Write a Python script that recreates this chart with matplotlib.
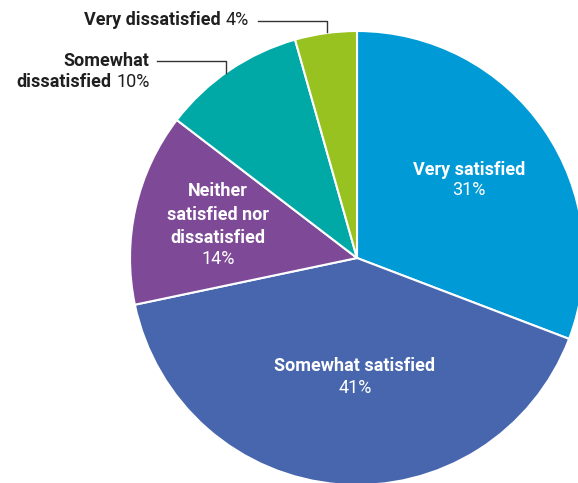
import matplotlib
matplotlib.use("Agg")
import matplotlib.pyplot as plt

plt.rcParams['font.family'] = ['Roboto', 'DejaVu Sans']

categories = ['Very satisfied', 'Somewhat satisfied', 'Neither satisfied nor dissatisfied',
              'Somewhat dissatisfied', 'Very dissatisfied']
shares = [30.8, 40.9, 13.7, 10.2, 4.4]
pct_labels = ['31%', '41%', '14%', '10%', '4%']
colors = ['#009AD7', '#4766AE', '#7E4A98', '#00A9A6', '#97C21F']

W, H = 578, 483
fig = plt.figure(figsize=(W / 100, H / 100), dpi=100)
ax = fig.add_axes([0, 0, 1, 1])

cx, cy, R = 357, H - 258, 227
ax.pie(shares, colors=colors, startangle=90, counterclock=False,
       center=(cx, cy), radius=R,
       wedgeprops=dict(edgecolor='white', linewidth=1.5))
ax.set_xlim(0, W)
ax.set_ylim(0, H)
ax.set_aspect('equal')
ax.axis('off')

fs = 13
dark = '#1f1f1f'

def inside(x, y, lines, pct, step=23):
    # bold lines followed by regular percentage, centred (pixel coords from top)
    for i, t in enumerate(lines):
        ax.text(x, H - (y + i * step), t, ha='center', va='center', color='white',
                fontsize=fs, fontweight='bold')
    ax.text(x, H - (y + len(lines) * step - 2), pct, ha='center', va='center',
            color='white', fontsize=fs)

inside(469, 170, ['Very satisfied'], pct_labels[0], step=22)
inside(355, 366, ['Somewhat satisfied'], pct_labels[1], step=24)
inside(218, 191, ['Neither', 'satisfied nor', 'dissatisfied'], pct_labels[2], step=23.5)

# outside labels with leader lines
ax.text(221, H - 20, 'Very dissatisfied', ha='right', va='center', color=dark,
        fontsize=fs, fontweight='bold')
ax.text(226, H - 20, pct_labels[4], ha='left', va='center', color=dark, fontsize=fs)
ax.plot([258, 327, 327], [H - 21, H - 21, H - 32], color='#333333', lw=1)

ax.text(149, H - 61, 'Somewhat', ha='right', va='center', color=dark,
        fontsize=fs, fontweight='bold')
ax.text(111, H - 82, 'dissatisfied', ha='right', va='center', color=dark,
        fontsize=fs, fontweight='bold')
ax.text(116, H - 82, pct_labels[3], ha='left', va='center', color=dark, fontsize=fs)
ax.plot([157, 226, 226], [H - 61, H - 61, H - 73], color='#333333', lw=1)

fig.savefig('out.png', dpi=100)
